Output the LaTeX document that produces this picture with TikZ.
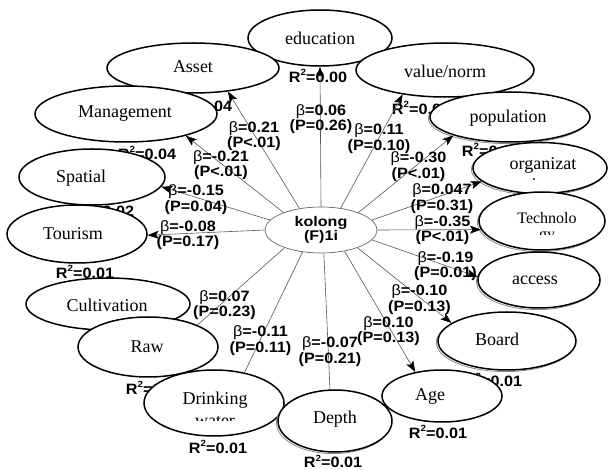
\documentclass[tikz,border=0pt]{standalone}
\usepackage{fontspec}
\setmainfont{Liberation Serif}
\newfontfamily\labfont{Liberation Sans}[FakeStretch=1.08]
\newfontfamily\kfont{Liberation Sans}[FakeStretch=1.15]
\usetikzlibrary{shapes.geometric,arrows.meta,shadows}

\newcommand\bb{{\mdseries β}}
\newcommand\Rsq[1]{R\raisebox{0.8ex}{\fontsize{9}{9}\selectfont 2}=#1}

\tikzset{
 oval/.style={ellipse, draw=black, line width=1.5pt, fill=white, inner sep=0pt},
 shd/.style={general shadow={shadow xshift=-1.6pt, shadow yshift=-1.6pt, draw=black!45, line width=0.8pt, fill=white}},
 otext/.style={font=\fontsize{18}{21}\selectfont, inner sep=0pt},
 stext/.style={font=\fontsize{16}{18}\selectfont, inner sep=0pt},
 betalab/.style={font=\labfont\bfseries\fontsize{15}{15.5}\selectfont, align=center, inner sep=0pt},
 rsq/.style={font=\labfont\bfseries\fontsize{15}{15}\selectfont, inner sep=0pt},
 link/.style={draw=black!65, line width=0.6pt},
 arr/.style={link, -{Stealth[length=11pt,width=8pt,inset=2.5pt,color=black]}},
}

\begin{document}
\begin{tikzpicture}[x=1pt,y=-1pt]
\fill[white] (0,0) rectangle (611,470);
\useasboundingbox (0,0) rectangle (611,470);

% R^2 labels (partly hidden under ellipses)
\node[rsq] (r-edu)   at (318,76)  {\Rsq{0.00}};
\node[rsq] (r-asset) at (203,105) {\Rsq{0.04}};
\node[rsq] (r-mgmt)  at (147,153) {\Rsq{0.04}};
\node[rsq] (r-spat)  at (105,210) {\Rsq{0.02}};
\node[rsq] (r-tour)  at (85,272)  {\Rsq{0.01}};
\node[rsq] (r-val)   at (421,108) {\Rsq{0.01}};
\node[rsq] (r-pop)   at (491,150) {\Rsq{0.01}};
\node[rsq] (r-raw)   at (155,388) {\Rsq{0.01}};
\node[rsq] (r-drink) at (218,447) {\Rsq{0.01}};
\node[rsq] (r-depth) at (333,461.5) {\Rsq{0.01}};
\node[rsq] (r-age)   at (438,432) {\Rsq{0.01}};
\node[rsq] (r-board) at (493,380) {\Rsq{0.01}};

% outer ellipses
\node[oval, minimum width=144pt, minimum height=56pt] (edu)   at (320,38)  {};
\node[oval, minimum width=172pt, minimum height=50pt] (asset) at (193,68)  {};
\node[oval, minimum width=182pt, minimum height=56pt] (mgmt)  at (126,114) {};
\node[oval, minimum width=146pt, minimum height=56pt] (spat)  at (92,177)  {};
\node[oval, minimum width=140pt, minimum height=58pt] (tour)  at (77,234)  {};
\node[oval, minimum width=164pt, minimum height=52pt] (cult)  at (108,304) {};
\node[oval, minimum width=140pt, minimum height=60pt] (raw)   at (148,347) {};
\node[oval, minimum width=140pt, minimum height=66pt] (drink) at (214,403) {};
\node[oval, shd, minimum width=114pt, minimum height=62pt] (depth) at (335,421) {};
\node[oval, minimum width=178pt, minimum height=54pt] (val)   at (445,70)  {};
\node[oval, shd, minimum width=160pt, minimum height=50pt] (pop)   at (510,117) {};
\node[oval, shd, minimum width=134pt, minimum height=51pt] (org)   at (540,168) {};
\node[oval, shd, minimum width=126pt, minimum height=58pt] (tech)  at (542,221) {};
\node[oval, shd, minimum width=122pt, minimum height=56pt] (access) at (539,280) {};
\node[oval, shd, minimum width=138pt, minimum height=58pt] (board) at (507,341) {};
\node[oval, minimum width=120pt, minimum height=52pt] (age)   at (442,396) {};

% texts inside ellipses
\node[otext] (edu-t)    at (320,38)  {education};
\node[otext] (asset-t)  at (193,67)  {Asset};
\node[otext] (val-t)    at (445,71)  {value/norm};
\node[otext] (mgmt-t)   at (125,114) {Management};
\node[otext] (pop-t)    at (508,118) {population};
\node[otext] (spat-t)   at (81,178)  {Spatial};
\node[otext] (org-t)    at (543,165) {organizat};
\node[otext] (tour-t)   at (73,234)  {Tourism};
\node[stext] (tech-t)   at (547,218) {Technolo};
\node[otext] (acc-t)    at (535,280) {access};
\node[otext] (cult-t)   at (107,305) {Cultivation};
\node[otext] (raw-t)    at (147,347) {Raw};
\node[otext] (board-t)  at (497,339) {Board};
\node[otext] (drink-t)  at (215,400) {Drinking};
\node[otext] (depth-t)  at (335,419) {Depth};
\node[otext] (age-t)    at (430,397) {Age};
\begin{scope}
  \clip (500,150) rectangle (590,181);
  \node[otext, anchor=base] (org-t2) at (543,191) {ion};
\end{scope}
\begin{scope}
  \clip (500,226) rectangle (590,235);
  \node[stext, anchor=base] (tech-t2) at (547,240) {gy};
\end{scope}
\begin{scope}
  \clip (170,410) rectangle (260,420.5);
  \node[otext, anchor=base] (drink-t2) at (215,426.5) {water};
\end{scope}

% centre node
\node[ellipse, draw=black!60, line width=0.7pt, fill=white, inner sep=0pt,
      minimum width=112pt, minimum height=46pt, align=center,
      font=\kfont\bfseries\fontsize{14}{14.7}\selectfont] (k) at (321,230) {kolong\\(F)1i};

% connectors
\draw[arr]  (k.90)    -- (edu.south);
\draw[arr]  (k.135)   -- (asset.-34);
\draw[arr]  (k.155)   -- (mgmt.-20);
\draw[arr]  (k.169)   -- (spat.-8);
\draw[arr]  (k.180)   -- (tour.-1);
\draw[link] (k.206.6) -- (raw.24);
\draw[link] (k.230)   -- (drink.45);
\draw[link] (k.-83)   -- (depth.99);
\draw[arr]  (k.-42.5) -- (age.138);
\draw[arr]  (k.-26)   -- (board.162);
\draw[arr]  (k.-11)   -- (access.177);
\draw[arr]  (k.0)     -- (tech.188);
\draw[arr]  (k.11)    -- (org.193);
\draw[arr]  (k.25)    -- (pop.198);
\draw[arr]  (k.48)    -- (val.210);

% path coefficients
\node[betalab] (b-edu)   at (321,119)   {\bb=0.06\\(P=0.26)};
\node[betalab] (b-asset) at (254,136)   {\bb=0.21\\(P<.01)};
\node[betalab] (b-mgmt)  at (221,165)   {\bb=-0.21\\(P<.01)};
\node[betalab] (b-spat)  at (196,199.5) {\bb=-0.15\\(P=0.04)};
\node[betalab] (b-tour)  at (188,235)   {\bb=-0.08\\(P=0.17)};
\node[betalab] (b-raw)   at (224.5,305) {\bb=0.07\\(P=0.23)};
\node[betalab] (b-drink) at (260.5,340.5) {\bb=-0.11\\(P=0.11)};
\node[betalab] (b-depth) at (330,351.5) {\bb=-0.07\\(P=0.21)};
\node[betalab] (b-age)   at (388.5,331) {\bb=0.10\\(P=0.13)};
\node[betalab] (b-board) at (419.5,299.5) {\bb=-0.10\\(P=0.13)};
\node[betalab] (b-acc)   at (445.5,266) {\bb=-0.19\\(P=0.01)};
\node[betalab] (b-tech)  at (442.5,230) {\bb=-0.35\\(P<.01)};
\node[betalab] (b-org)   at (442,198.5) {\bb=0.047\\(P=0.31)};
\node[betalab] (b-pop)   at (418.5,166.5) {\bb=-0.30\\(P<.01)};
\node[betalab] (b-val)   at (379,138.5) {\bb=0.11\\(P=0.10)};
\end{tikzpicture}
\end{document}
